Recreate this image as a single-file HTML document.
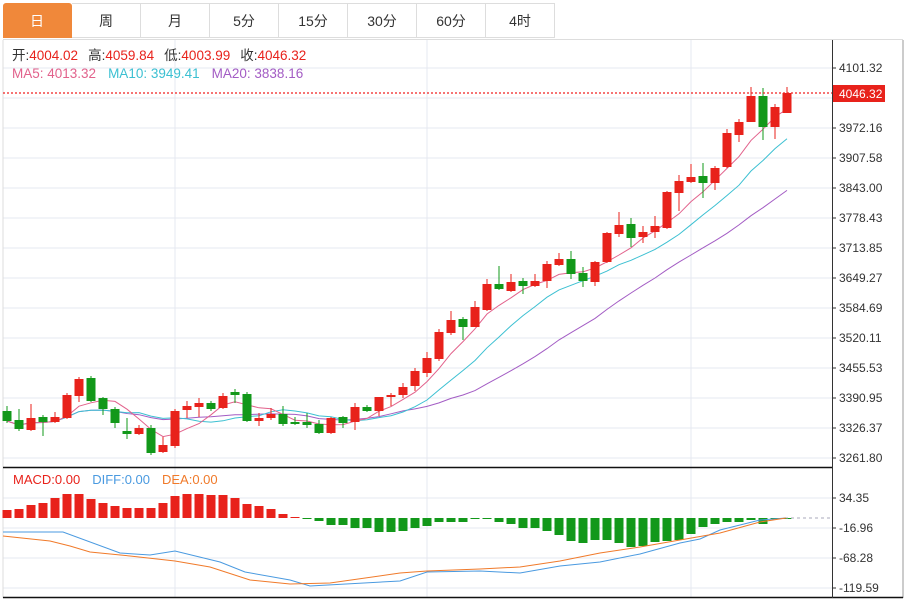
<!DOCTYPE html><html><head><meta charset="utf-8"><style>
body{margin:0;width:907px;height:599px;overflow:hidden;background:#fff;font-family:"Liberation Sans","Noto Sans CJK SC",sans-serif}
.tabs{position:absolute;left:3px;top:3px;height:35px;display:flex}
.tab{width:69px;height:35px;border:1px solid #ddd;border-left:none;box-sizing:border-box;text-align:center;line-height:35px;font-size:14px;color:#333}
.tab.on{background:#f0883a;color:#fff;border-color:#f0883a;border-radius:3px 3px 0 0}
</style></head><body>
<div class="tabs"><div class="tab on">日</div><div class="tab">周</div><div class="tab">月</div><div class="tab">5分</div><div class="tab">15分</div><div class="tab">30分</div><div class="tab">60分</div><div class="tab">4时</div></div>
<svg id="s" width="907" height="599" style="position:absolute;left:0;top:0" font-family="Liberation Sans, Noto Sans CJK SC, sans-serif"></svg>
<script>
const C=[[411,421,406,423,0],[420,429,409,431,0],[430,418,404,431,1],[417,422,415,436,0],[422,417,412,423,1],[418,395,393,419,1],[396,379,377,402,1],[378,401,376,402,0],[398,409,397,415,0],[409,423,407,428,0],[431,434,418,439,0],[434,428,425,435,1],[428,453,425,455,0],[452,445,437,453,1],[446,411,409,448,1],[410,406,401,418,1],[407,403,398,417,1],[403,409,401,411,0],[408,396,393,409,1],[392,395,389,403,0],[394,421,392,422,0],[421,418,413,426,1],[418,414,408,420,1],[414,424,406,426,0],[422,424,417,425,0],[422,425,413,428,0],[424,433,420,434,0],[433,418,417,434,1],[417,423,416,428,0],[422,407,403,430,1],[407,411,405,412,0],[411,397,397,416,1],[397,395,393,406,1],[395,387,383,398,1],[386,371,368,391,1],[373,358,352,377,1],[359,332,329,361,1],[333,320,311,335,1],[319,327,317,340,0],[327,307,301,327,1],[310,284,279,311,1],[284,289,266,290,0],[291,282,274,292,1],[281,286,278,294,0],[286,281,274,287,1],[281,264,261,288,1],[265,259,253,266,1],[259,274,251,279,0],[273,281,267,287,0],[282,262,261,286,1],[262,233,232,263,1],[234,225,212,237,1],[224,238,218,247,0],[237,232,226,243,1],[232,226,216,238,1],[228,192,191,229,1],[193,181,175,211,1],[182,177,164,183,1],[176,183,163,198,0],[183,168,166,190,1],[167,133,129,168,1],[135,122,119,142,1],[122,96,87,122,1],[96,127,88,140,0],[127,107,104,139,1],[113,93,87,113,1]];
const H=[510,509,505,503,498,494,494,499,503,506,508,508,508,503,496,494,494,495,495,498,504,506,509,514,517,518.5,521,525,525,528,528,532,532,531,528,526,522,522,522,519,519,522,524,528,528,531,535,541,543,540,540,543,547,546,542,541,540,534,527,524,522,522,520,524,519,518.5];
const R='#e8221b',G='#12981a';let o='';
const X=i=>7+12*i;
for(let k=0;k<14;k++){const y=68+30*k;o+=`<line x1="3" x2="832" y1="${y}" y2="${y}" stroke="#e6e9f0"/>`}
for(const y of [498,528,558,588])o+=`<line x1="3" x2="832" y1="${y}" y2="${y}" stroke="#e6e9f0"/>`;
for(const x of [175,427,691])o+=`<line x1="${x}" x2="${x}" y1="40" y2="598" stroke="#e6e9f0"/>`;
o+=`<line x1="3" x2="3" y1="40" y2="598" stroke="#ddd"/><line x1="3" x2="903" y1="39.5" y2="39.5" stroke="#ddd"/>`;
o+=`<line x1="903" x2="903" y1="40" y2="598" stroke="#999"/>`;
o+=`<line x1="3" x2="832" y1="467.5" y2="467.5" stroke="#111" stroke-width="1.5"/><line x1="3" x2="903" y1="597.5" y2="597.5" stroke="#111" stroke-width="1.5"/>`;
o+=`<line x1="832.5" x2="832.5" y1="40" y2="598" stroke="#333"/>`;
const L=['4101.32','4036.74','3972.16','3907.58','3843.00','3778.43','3713.85','3649.27','3584.69','3520.11','3455.53','3390.95','3326.37','3261.80'];
L.forEach((t,k)=>{const y=68+30*k;o+=`<line x1="832" x2="836" y1="${y}" y2="${y}" stroke="#333"/>`;if(k!=1)o+=`<text x="839" y="${y+4}" font-size="12" fill="#333">${t}</text>`});
[['34.35',498],['-16.96',528],['-68.28',558],['-119.59',588]].forEach(([t,y])=>{o+=`<line x1="832" x2="836" y1="${y}" y2="${y}" stroke="#333"/><text x="839" y="${y+4}" font-size="12" fill="#333">${t}</text>`});
function ma(n,col){let p=[];for(let i=0;i<C.length;i++){const s=Math.max(0,i-n+1);let a=0;for(let j=s;j<=i;j++)a+=C[j][1];p.push(X(i)+','+(a/(i-s+1)).toFixed(1))}return `<polyline points="${p.join(' ')}" fill="none" stroke="${col}" stroke-width="1"/>`}
o+=ma(20,'#a35cc4')+ma(10,'#3cc0d2')+ma(5,'#e2628c');
C.forEach((c,i)=>{const x=X(i),col=c[4]?R:G,t=Math.min(c[0],c[1]),b=Math.max(c[0],c[1]);o+=`<line x1="${x}" x2="${x}" y1="${c[2]}" y2="${c[3]}" stroke="${col}"/><rect x="${x-4.5}" y="${t}" width="9" height="${Math.max(1.5,b-t)}" fill="${col}"/>`});
o+=`<line x1="3" x2="832" y1="93" y2="93" stroke="#f02020" stroke-width="1.2" stroke-dasharray="2,2"/><rect x="833" y="85" width="52" height="17" fill="${R}"/><text x="839" y="98" font-size="12" fill="#fff">4046.32</text>`;
H.forEach((h,i)=>{const x=X(i);if(h<518)o+=`<rect x="${x-4.5}" y="${h}" width="9" height="${518-h}" fill="${R}"/>`;else o+=`<rect x="${x-4.5}" y="518" width="9" height="${Math.max(1,h-518)}" fill="${G}"/>`});
o+=`<line x1="785" x2="832" y1="518" y2="518" stroke="#aab" stroke-dasharray="3,3"/>`;
o+=`<polyline points="3,532 63,532 120,553 150,555 175,551 220,562 245,572 290,580 310,586 400,581 427,572 480,571 520,573 560,566 600,562 640,554 680,543 700,539 720,530 760,520 786,518" fill="none" stroke="#4a9ae0"/>`;
o+=`<polyline points="3,536 50,541 70,546 90,552 130,556 175,561 210,567 250,580 290,584 330,583 400,573 427,571 480,569 520,567 560,561 600,553 640,547 680,540 720,533 760,522 786,518" fill="none" stroke="#f07a2a"/>`;
o+=`<text x="12" y="60" font-size="13.5"><tspan fill="#333">开:</tspan><tspan fill="${R}">4004.02</tspan><tspan fill="#333" dx="10">高:</tspan><tspan fill="${R}">4059.84</tspan><tspan fill="#333" dx="10">低:</tspan><tspan fill="${R}">4003.99</tspan><tspan fill="#333" dx="10">收:</tspan><tspan fill="${R}">4046.32</tspan></text>`;
o+=`<text x="12" y="78" font-size="13.5"><tspan fill="#e2628c">MA5: 4013.32</tspan><tspan fill="#3cc0d2" dx="12">MA10: 3949.41</tspan><tspan fill="#a35cc4" dx="12">MA20: 3838.16</tspan></text>`;
o+=`<text x="13" y="484" font-size="13"><tspan fill="${R}">MACD:0.00</tspan><tspan fill="#4a9ae0" dx="12">DIFF:0.00</tspan><tspan fill="#f07a2a" dx="12">DEA:0.00</tspan></text>`;
document.getElementById('s').innerHTML=o;
</script></body></html>
